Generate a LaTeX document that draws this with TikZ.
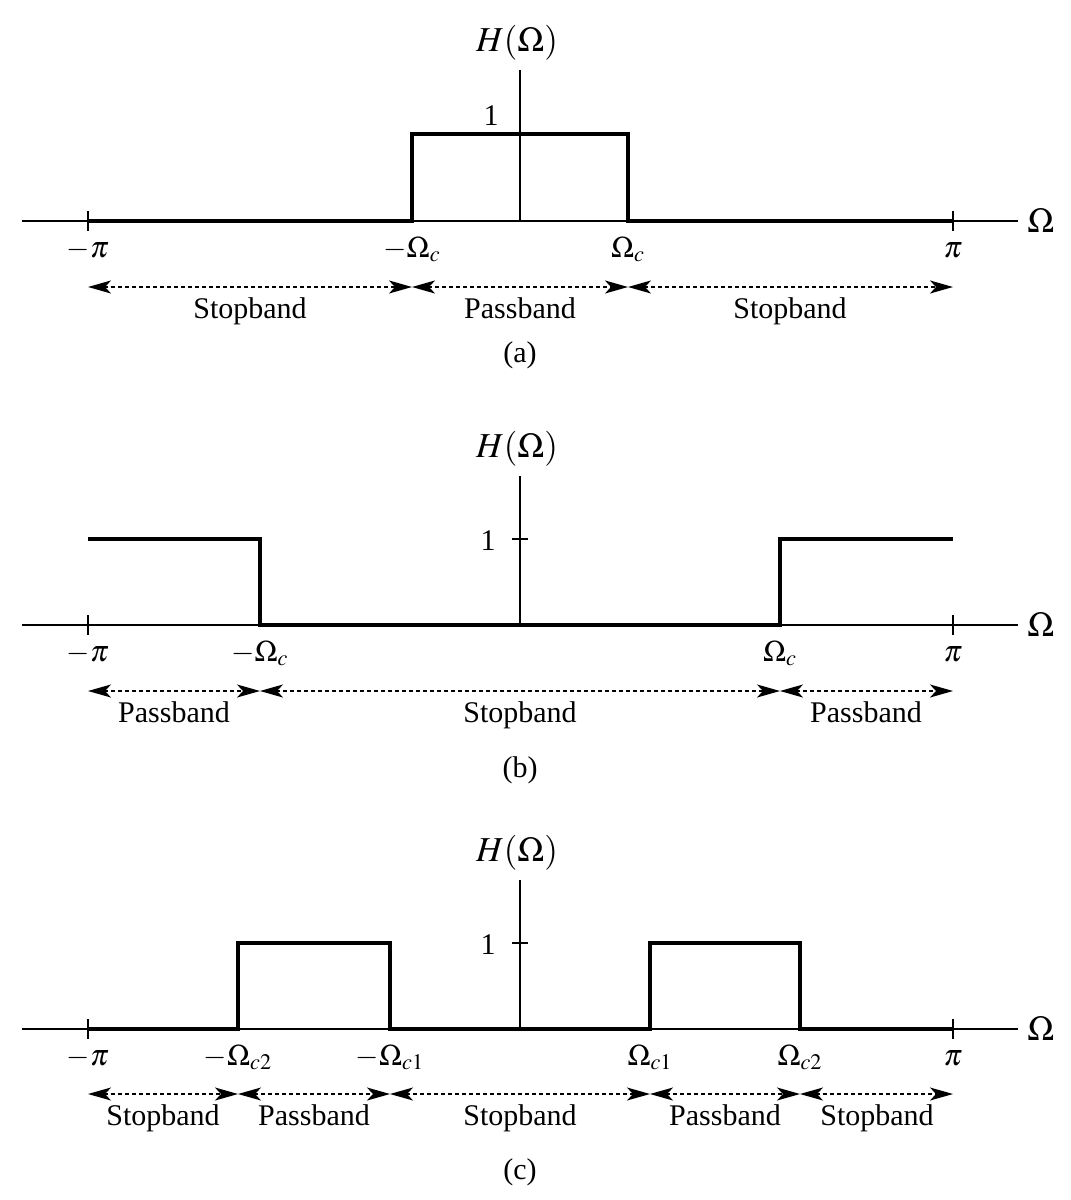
\documentclass[tikz,border=0pt]{standalone}
\usepackage{mathptmx}
\usepackage[no-math]{fontspec}
\setmainfont{Liberation Serif}
\usetikzlibrary{arrows.meta}
\tikzset{
  axisline/.style={line width=1pt},
  sigline/.style={line width=2pt, line join=miter},
  bandarrow/.style={line width=0.9pt, dash pattern=on 2pt off 1.5pt,
    {Stealth[length=11.5pt,width=6.5pt,inset=3pt]}-{Stealth[length=11.5pt,width=6.5pt,inset=3pt]}},
  lbl/.style={inner sep=0pt, font=\fontsize{15}{18}\selectfont},
  biglbl/.style={inner sep=0pt, font=\fontsize{17.5}{21}\selectfont},
  ticklbl/.style={lbl, anchor=base},
  bandlbl/.style={lbl, anchor=base},
}
\begin{document}
\begin{tikzpicture}[x=0.5pt,y=-0.5pt]
\useasboundingbox (0,0) rectangle (1071,1200);
% ================= (a) =================
\begin{scope}[shift={(0,221)}]
  \coordinate (aL) at (22,0); \coordinate (aR) at (1018,0);
  \coordinate (aO) at (520,0); \coordinate (aT) at (520,-151);
  \coordinate (amp) at (88,0); \coordinate (app) at (953,0);
  \coordinate (amc) at (412,0); \coordinate (apc) at (628,0);
  \coordinate (amcu) at (412,-87); \coordinate (apcu) at (628,-87);
  \draw[axisline] (aL) -- (aR);
  \draw[axisline] (aO) -- (aT);
  \draw[axisline] ([yshift=5pt]amp) -- ([yshift=-5pt]amp);
  \draw[axisline] ([yshift=5pt]app) -- ([yshift=-5pt]app);
  \draw[sigline] (amp) -- (amc) -- (amcu) -- (apcu) -- (apc) -- (app);
  \node[biglbl, anchor=west] (aW) at (1027,0) {$\Omega$};
  \node[biglbl] (aH) at (517,-178) {$H(\Omega)$};
  \node[lbl] (a1) at (491,-105) {1};
  \node[ticklbl] (ampl) at (88,36) {$-\pi$};
  \node[ticklbl] (amcl) at (412,36) {$-\Omega_c$};
  \node[ticklbl] (apcl) at (628,36) {$\Omega_c$};
  \node[ticklbl] (appl) at (953,36) {$\pi$};
  \coordinate (aA0) at (88,66); \coordinate (aA1) at (412,66);
  \coordinate (aA2) at (628,66); \coordinate (aA3) at (953,66);
  \draw[bandarrow] (aA0) -- (aA1);
  \draw[bandarrow] (aA1) -- (aA2);
  \draw[bandarrow] (aA2) -- (aA3);
  \node[bandlbl] (as1) at (250,97) {Stopband};
  \node[bandlbl] (ap1) at (520,97) {Passband};
  \node[bandlbl] (as2) at (790,97) {Stopband};
  \node[lbl] (acap) at (520,134) {(a)};
\end{scope}
% ================= (b) =================
\begin{scope}[shift={(0,625)}]
  \coordinate (bL) at (22,0); \coordinate (bR) at (1018,0);
  \coordinate (bO) at (520,0); \coordinate (bT) at (520,-149);
  \coordinate (bmp) at (88,0); \coordinate (bpp) at (953,0);
  \coordinate (bmc) at (260,0); \coordinate (bpc) at (780,0);
  \coordinate (bmpu) at (88,-86); \coordinate (bppu) at (953,-86);
  \coordinate (bmcu) at (260,-86); \coordinate (bpcu) at (780,-86);
  \coordinate (b1l) at (512,-86); \coordinate (b1r) at (528,-86);
  \draw[axisline] (bL) -- (bR);
  \draw[axisline] (bO) -- (bT);
  \draw[axisline] (b1l) -- (b1r);
  \draw[axisline] ([yshift=5pt]bmp) -- ([yshift=-5pt]bmp);
  \draw[axisline] ([yshift=5pt]bpp) -- ([yshift=-5pt]bpp);
  \draw[sigline] (bmpu) -- (bmcu) -- (bmc) -- (bpc) -- (bpcu) -- (bppu);
  \node[biglbl, anchor=west] (bW) at (1027,0) {$\Omega$};
  \node[biglbl] (bH) at (517,-176) {$H(\Omega)$};
  \node[lbl] (b1) at (488,-84) {1};
  \node[ticklbl] (bmpl) at (88,36) {$-\pi$};
  \node[ticklbl] (bmcl) at (260,36) {$-\Omega_c$};
  \node[ticklbl] (bpcl) at (780,36) {$\Omega_c$};
  \node[ticklbl] (bppl) at (953,36) {$\pi$};
  \coordinate (bA0) at (88,66); \coordinate (bA1) at (260,66);
  \coordinate (bA2) at (780,66); \coordinate (bA3) at (953,66);
  \draw[bandarrow] (bA0) -- (bA1);
  \draw[bandarrow] (bA1) -- (bA2);
  \draw[bandarrow] (bA2) -- (bA3);
  \node[bandlbl] (bp1) at (174,97) {Passband};
  \node[bandlbl] (bs1) at (520,97) {Stopband};
  \node[bandlbl] (bp2) at (866,97) {Passband};
  \node[lbl] (bcap) at (520,145) {(b)};
\end{scope}
% ================= (c) =================
\begin{scope}[shift={(0,1029)}]
  \coordinate (cL) at (22,0); \coordinate (cR) at (1018,0);
  \coordinate (cO) at (520,0); \coordinate (cT) at (520,-149);
  \coordinate (cmp) at (88,0); \coordinate (cpp) at (953,0);
  \coordinate (cm2) at (238,0); \coordinate (cm1) at (390,0);
  \coordinate (cp1) at (650,0); \coordinate (cp2) at (800,0);
  \coordinate (cm2u) at (238,-86); \coordinate (cm1u) at (390,-86);
  \coordinate (cp1u) at (650,-86); \coordinate (cp2u) at (800,-86);
  \coordinate (c1l) at (512,-86); \coordinate (c1r) at (528,-86);
  \draw[axisline] (cL) -- (cR);
  \draw[axisline] (cO) -- (cT);
  \draw[axisline] (c1l) -- (c1r);
  \draw[axisline] ([yshift=5pt]cmp) -- ([yshift=-5pt]cmp);
  \draw[axisline] ([yshift=5pt]cpp) -- ([yshift=-5pt]cpp);
  \draw[sigline] (cmp) -- (cm2) -- (cm2u) -- (cm1u) -- (cm1) -- (cp1) -- (cp1u) -- (cp2u) -- (cp2) -- (cpp);
  \node[biglbl, anchor=west] (cW) at (1027,0) {$\Omega$};
  \node[biglbl] (cH) at (517,-176) {$H(\Omega)$};
  \node[lbl] (c1) at (488,-84) {1};
  \node[ticklbl] (cmpl) at (88,36) {$-\pi$};
  \node[ticklbl] (cm2l) at (238,36) {$-\Omega_{c2}$};
  \node[ticklbl] (cm1l) at (390,36) {$-\Omega_{c1}$};
  \node[ticklbl] (cp1l) at (650,36) {$\Omega_{c1}$};
  \node[ticklbl] (cp2l) at (800,36) {$\Omega_{c2}$};
  \node[ticklbl] (cppl) at (953,36) {$\pi$};
  \coordinate (cA0) at (88,65); \coordinate (cA1) at (238,65);
  \coordinate (cA2) at (390,65); \coordinate (cA3) at (650,65);
  \coordinate (cA4) at (800,65); \coordinate (cA5) at (953,65);
  \draw[bandarrow] (cA0) -- (cA1);
  \draw[bandarrow] (cA1) -- (cA2);
  \draw[bandarrow] (cA2) -- (cA3);
  \draw[bandarrow] (cA3) -- (cA4);
  \draw[bandarrow] (cA4) -- (cA5);
  \node[bandlbl] (cs1) at (163,96) {Stopband};
  \node[bandlbl] (cpa1) at (314,96) {Passband};
  \node[bandlbl] (cs2) at (520,96) {Stopband};
  \node[bandlbl] (cpa2) at (725,96) {Passband};
  \node[bandlbl] (cs3) at (877,96) {Stopband};
  \node[lbl] (ccap) at (520,143) {(c)};
\end{scope}
\end{tikzpicture}
\end{document}
